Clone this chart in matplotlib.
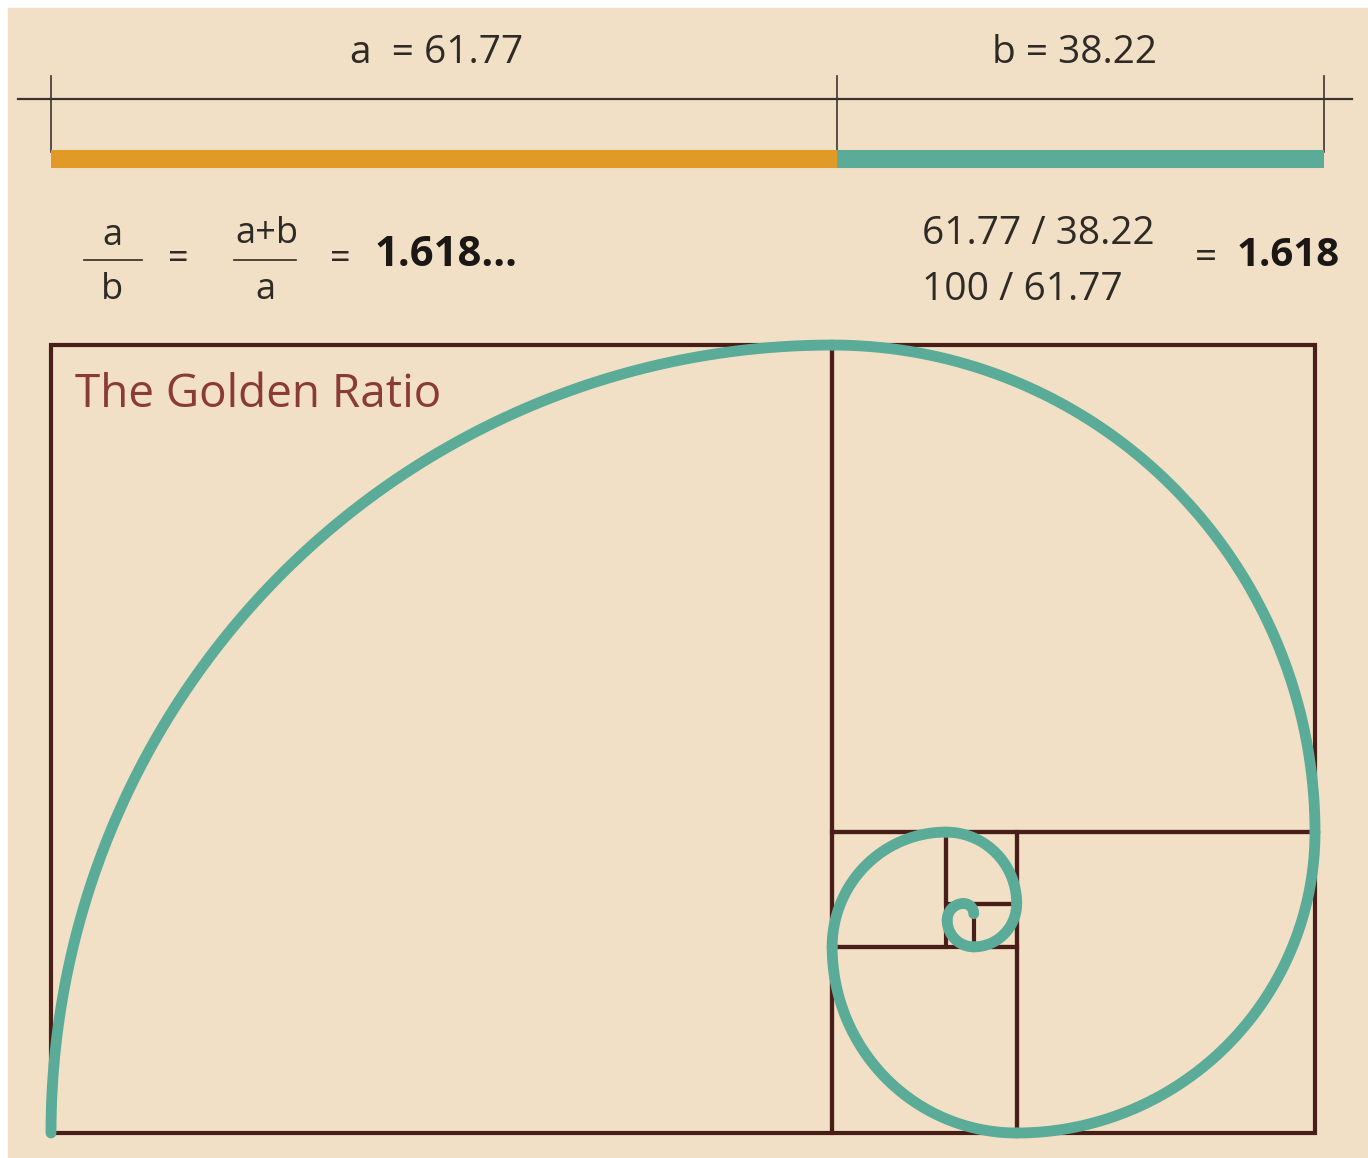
import numpy as np
import matplotlib.pyplot as plt
from matplotlib.patches import Rectangle

# valores
segmentos = ['a', 'b']
valores = [61.77, 38.22]
razao = 1.618
lados = [61.8, 38.2, 23.6, 14.6, 9.0, 5.6, 3.4, 2.1, 1.3, 0.8]
n_quadrados = 7

cor_fundo = '#f1e0c6'
cor_a = '#e09a25'
cor_b = '#5aab98'
cor_linha = '#4a1e18'
cor_texto = '#2e2a26'
cor_titulo = '#8a3b36'

plt.rcParams['font.family'] = ['Open Sans', 'DejaVu Sans']

W, H = 1368, 1158
fig = plt.figure(figsize=(W / 100, H / 100), dpi=100, facecolor='white')

def fx(x):
    return x / W

def fy(y):
    return 1 - y / H

# fundo bege
fig.patches.append(Rectangle((fx(8), 0), 1, fy(8), transform=fig.transFigure,
                             color=cor_fundo, zorder=-10))

# eixo em unidades do retangulo (px por unidade)
sx, sy = 12.64, 12.75
x0, y0 = 51, 1133
ax = fig.add_axes([0, 0, 1, 1])
ax.set_xlim(-x0 / sx, (W - x0) / sx)
ax.set_ylim(-(H - y0) / sy, y0 / sy)
ax.axis('off')
ax.patch.set_alpha(0)

# barra superior a / b
escala_barra = 1.007
bordas = np.concatenate([[0], np.cumsum(valores)]) * escala_barra
y_linha = (y0 - 99) / sy
y_barra = (y0 - 159) / sy
ax.plot([-2.6, 102.9], [y_linha, y_linha], color='#3a3430', lw=1.6)
for xb in bordas:
    ax.plot([xb, xb], [(y0 - 76) / sy, (y0 - 152) / sy], color='#3a3430', lw=1.2)
for i, cor in enumerate([cor_a, cor_b]):
    ax.plot([bordas[i], bordas[i + 1]], [y_barra, y_barra], color=cor, lw=13,
            solid_capstyle='butt')

# rotulos da barra
fig.text(fx(437), fy(53), f'{segmentos[0]}  = {valores[0]:.2f}', fontsize=28,
         ha='center', va='center', color=cor_texto)
fig.text(fx(1075), fy(53), f'{segmentos[1]} = {valores[1]:.2f}', fontsize=28,
         ha='center', va='center', color=cor_texto)

# formula esquerda
tx = dict(ha='center', va='center', color=cor_texto, fontsize=26)
fig.text(fx(112), fy(236), 'a', **tx)
fig.text(fx(112), fy(290), 'b', **tx)
fig.text(fx(178), fy(260), '=', **tx)
fig.text(fx(267), fy(234), 'a+b', **tx)
fig.text(fx(265), fy(290), 'a', **tx)
fig.text(fx(340), fy(260), '=', **tx)
fig.text(fx(375), fy(256), f'{razao:.3f}...', fontsize=30, fontweight='bold',
         ha='left', va='center', color='#1a1714')
for xa, xb_ in [(84, 142), (234, 296)]:
    fig.add_artist(plt.Line2D([fx(xa), fx(xb_)], [fy(260), fy(260)],
                              transform=fig.transFigure, color=cor_texto, lw=1.2))

# formula direita
fig.text(fx(922), fy(234), f'{valores[0]:.2f} / {valores[1]:.2f}', fontsize=28,
         ha='left', va='center', color=cor_texto)
fig.text(fx(922), fy(290), f'100 / {valores[0]:.2f}', fontsize=28,
         ha='left', va='center', color=cor_texto)
fig.text(fx(1195), fy(258), '=', fontsize=28, ha='left', va='center', color=cor_texto)
fig.text(fx(1237), fy(256), f'{razao:.3f}', fontsize=29, fontweight='bold',
         ha='left', va='center', color='#1a1714')

# quadrados e espiral
theta = np.pi
centro = np.array([lados[0], 0.0])
for k, r in enumerate(lados):
    if k > 0:
        centro = fim - r * np.array([np.cos(theta), np.sin(theta)])
    u1 = np.array([np.cos(theta), np.sin(theta)])
    u2 = np.array([np.cos(theta - np.pi / 2), np.sin(theta - np.pi / 2)])
    if k < n_quadrados:
        cantos = np.array([centro, centro + r * u1, centro + r * u2, centro + r * (u1 + u2)])
        xmin, ymin = cantos.min(axis=0)
        ax.add_patch(Rectangle((xmin, ymin), r, r, fill=False, ec=cor_linha,
                               lw=3, zorder=2, joinstyle='miter'))
    t = np.linspace(theta, theta - np.pi / 2, 120)
    ax.plot(centro[0] + r * np.cos(t), centro[1] + r * np.sin(t), color=cor_b,
            lw=7.8, zorder=3, solid_capstyle='round')
    fim = centro + r * u2
    theta -= np.pi / 2

fig.text(fx(75), fy(395), 'The Golden Ratio', fontsize=33, color=cor_titulo,
         ha='left', va='center')

fig.savefig('out.png', dpi=100, facecolor='white')
